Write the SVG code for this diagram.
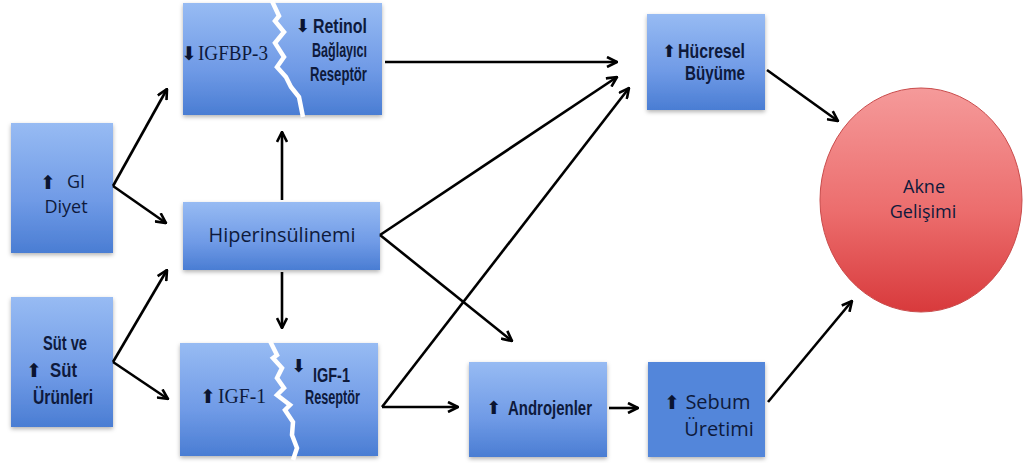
<svg xmlns="http://www.w3.org/2000/svg" width="1024" height="463" viewBox="0 0 1024 463">
<style>
.box{fill:url(#blue);filter:url(#sh)}
.crack{fill:none;stroke:#fff;stroke-width:4.5;stroke-linejoin:miter}
.t{font-family:"Liberation Sans",sans-serif;font-weight:bold;fill:#0e1a3c}
.c{font-family:"Open Sans",Lato,sans-serif;fill:#0e1a3c;text-anchor:middle}
.s{font-family:"Liberation Serif",serif;fill:#0e1a3c}
.ar{font-family:"DejaVu Sans",sans-serif;fill:#0a1430}
.cn line{stroke:#000;stroke-width:2.6;marker-end:url(#ah)}
</style>
<defs>
<linearGradient id="blue" x1="0" y1="0" x2="0" y2="1">
<stop offset="0" stop-color="#97bbf3"/>
<stop offset="0.6" stop-color="#6f9ae6"/>
<stop offset="1" stop-color="#4a7dd3"/>
</linearGradient>
<linearGradient id="red" x1="0" y1="0" x2="0" y2="1">
<stop offset="0" stop-color="#f59a9a"/>
<stop offset="0.55" stop-color="#ec6d6d"/>
<stop offset="1" stop-color="#d83a3c"/>
</linearGradient>
<filter id="sh" x="-10%" y="-10%" width="120%" height="125%">
<feDropShadow dx="0" dy="2" stdDeviation="2" flood-color="#000" flood-opacity="0.3"/>
</filter>
<marker id="ah" viewBox="0 0 12 12" refX="11" refY="6" markerWidth="12" markerHeight="12" markerUnits="userSpaceOnUse" orient="auto">
<path d="M1,1 L11,6 L1,11" fill="none" stroke="#000" stroke-width="2.6"/>
</marker>
</defs>
<rect width="1024" height="463" fill="#fff"/>
<g id="gi-diyet">
<rect class="box" x="11" y="123" width="102" height="130"/>
<text class="ar" x="40" y="189" font-size="19">⬆</text>
<text class="c" x="76" y="188" font-size="18">GI</text>
<text class="c" x="66" y="213" font-size="18">Diyet</text>
</g>
<g id="sut">
<rect class="box" x="11" y="297" width="102" height="130"/>
<text class="t" x="43" y="350" font-size="20" textLength="44" lengthAdjust="spacingAndGlyphs">Süt ve</text>
<text class="ar" x="26" y="377" font-size="19">⬆</text>
<text class="t" x="50" y="377" font-size="20" textLength="27" lengthAdjust="spacingAndGlyphs">Süt</text>
<text class="t" x="33" y="404" font-size="20" textLength="60" lengthAdjust="spacingAndGlyphs">Ürünleri</text>
</g>
<g id="igfbp">
<rect class="box" x="183" y="3" width="199" height="112"/>
<polyline class="crack" points="272,1 279,16 275,21 284,32 275,43 284,57 277,67 286,77 291,87 299,97 303,117"/>
<text class="ar" x="181" y="60" font-size="19">⬇</text>
<text class="s" x="198" y="60" font-size="20" textLength="70" lengthAdjust="spacingAndGlyphs">IGFBP-3</text>
<text class="ar" x="295" y="32" font-size="18">⬇</text>
<text class="t" x="313" y="33" font-size="20" textLength="54" lengthAdjust="spacingAndGlyphs">Retinol</text>
<text class="t" x="312" y="57" font-size="20" textLength="55" lengthAdjust="spacingAndGlyphs">Bağlayıcı</text>
<text class="t" x="310" y="81" font-size="20" textLength="57" lengthAdjust="spacingAndGlyphs">Reseptör</text>
</g>
<g id="hiperinsulinemi">
<rect class="box" x="183" y="202" width="197" height="68"/>
<text class="c" x="282" y="242" font-size="20" textLength="147" lengthAdjust="spacingAndGlyphs">Hiperinsülinemi</text>
</g>
<g id="igf1">
<rect class="box" x="180" y="343" width="198" height="113"/>
<polyline class="crack" points="270,341 277,355 273,358 282,368 277,378 284,388 277,395 290,405 285,410 293,422 292,435 297,448 293,460"/>
<text class="ar" x="200" y="403" font-size="19">⬆</text>
<text class="s" x="218" y="403" font-size="20" textLength="48" lengthAdjust="spacingAndGlyphs">IGF-1</text>
<text class="ar" x="291" y="372" font-size="18">⬇</text>
<text class="t" x="313" y="382" font-size="20" textLength="37" lengthAdjust="spacingAndGlyphs">IGF-1</text>
<text class="t" x="305" y="404" font-size="20" textLength="55" lengthAdjust="spacingAndGlyphs">Reseptör</text>
</g>
<g id="androjenler">
<rect class="box" x="469" y="362" width="138" height="95"/>
<text class="ar" x="486" y="414" font-size="18">⬆</text>
<text class="t" x="508" y="415" font-size="20" textLength="84" lengthAdjust="spacingAndGlyphs">Androjenler</text>
</g>
<g id="sebum">
<rect class="box" x="648" y="362" width="117" height="95" style="fill:#5286da"/>
<text class="ar" x="664" y="409" font-size="19">⬆</text>
<text class="c" x="718" y="409" font-size="20">Sebum</text>
<text class="c" x="719" y="436" font-size="20">Üretimi</text>
</g>
<g id="hucresel">
<rect class="box" x="647" y="14" width="118" height="96"/>
<text class="ar" x="662" y="57" font-size="17">⬆</text>
<text class="t" x="678" y="58" font-size="20" textLength="67" lengthAdjust="spacingAndGlyphs">Hücresel</text>
<text class="t" x="685" y="80" font-size="20" textLength="60" lengthAdjust="spacingAndGlyphs">Büyüme</text>
</g>
<g id="akne">
<ellipse cx="921" cy="200" rx="101" ry="112" fill="url(#red)" stroke="#c94b4b" stroke-width="1"/>
<text class="c" x="924" y="193" font-size="18" fill="#2a0a0a">Akne</text>
<text class="c" x="923" y="218" font-size="18" fill="#2a0a0a">Gelişimi</text>
</g>
<g class="cn" id="connectors">
<line x1="113" y1="186" x2="167" y2="89"/>
<line x1="113" y1="186" x2="166" y2="223"/>
<line x1="113" y1="362" x2="167" y2="270"/>
<line x1="113" y1="362" x2="168" y2="399"/>
<line x1="282" y1="200" x2="282" y2="132"/>
<line x1="282" y1="272" x2="282" y2="328"/>
<line x1="385" y1="62" x2="617" y2="62"/>
<line x1="380" y1="235" x2="617" y2="77"/>
<line x1="380" y1="235" x2="512" y2="341"/>
<line x1="382" y1="407" x2="629" y2="88"/>
<line x1="382" y1="407" x2="458" y2="407"/>
<line x1="609" y1="408" x2="638" y2="408"/>
<line x1="767" y1="70" x2="838" y2="121"/>
<line x1="768" y1="402" x2="852" y2="301"/>
</g>
</svg>
